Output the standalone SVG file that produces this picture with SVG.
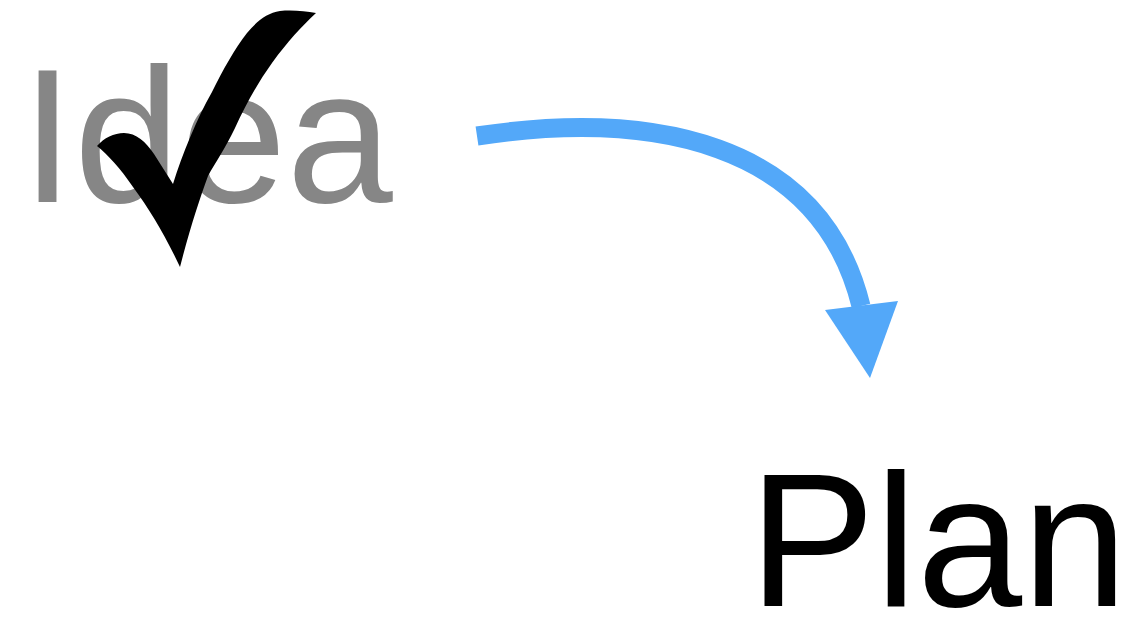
<svg xmlns="http://www.w3.org/2000/svg" width="1142" height="624" viewBox="0 0 1142 624">
  <style>
    .lbl { font-family: "Liberation Sans", Arial, Helvetica, sans-serif; }
    .conn { fill: none; stroke: #53a8f9; stroke-width: 19; }
    .head { fill: #53a8f9; }
  </style>
  <rect width="1142" height="624" fill="#ffffff"/>
  <g id="node-idea">
    <text class="lbl" x="21" y="202" font-size="191" fill="#868686">Idea</text>
    <path id="check" d="M180,267 C165,235 150,210 133,187 C120,168 108,155 97,146 C104,138 114,133 124,133 C136,133 146,142 154,154 L173,184 C182,155 197,118 212,92 C223,70 235,48 247,33 C257,21 267,13 280,11 C292,10 305,11 316,13 C301,27 288,41 272,63 C257,84 245,106 235,128 C225,149 215,163 208,176 C199,201 190,228 180,267 Z" fill="#000000"/>
  </g>
  <g id="node-plan">
    <text class="lbl" x="749" y="606" font-size="189" fill="#000000">Plan</text>
  </g>
  <g id="connectors">
    <path class="conn" d="M477,136 C650,110 820,140 861,306"/>
    <polygon class="head" points="825,310 898,301 870,378"/>
  </g>
</svg>
